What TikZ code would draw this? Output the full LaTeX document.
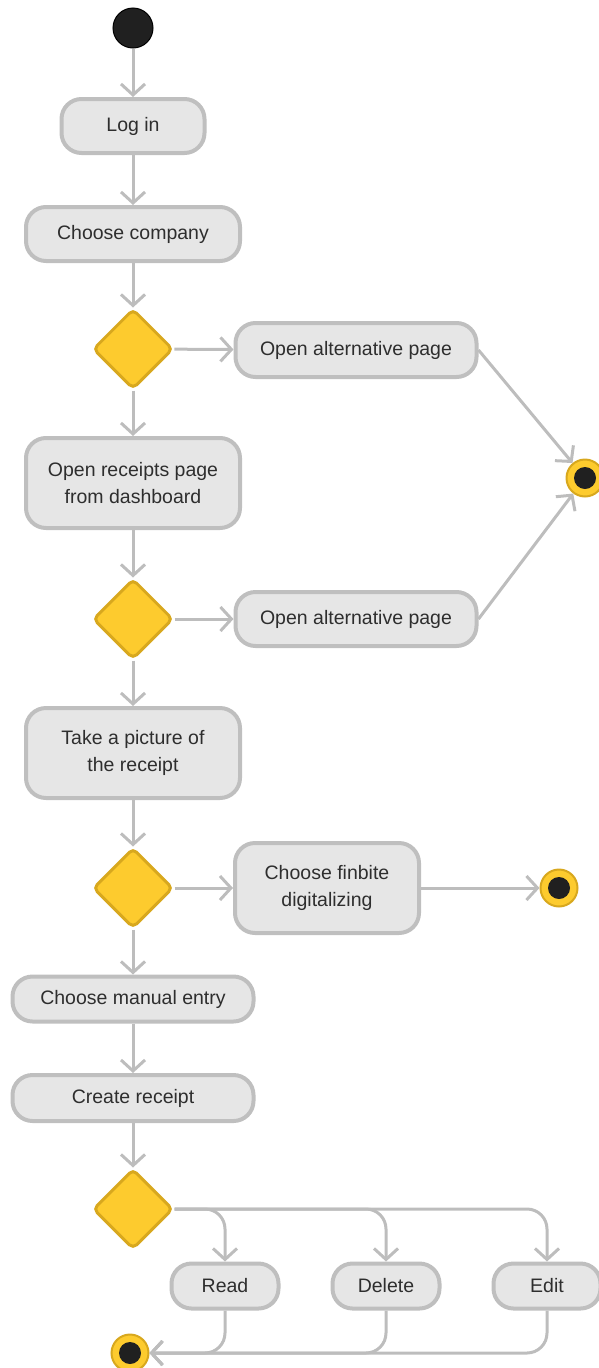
\documentclass[tikz,border=0pt]{standalone}
\usepackage{fontspec}
\setmainfont{Liberation Sans}
\usetikzlibrary{shapes.geometric,arrows.meta}
\definecolor{boxfill}{HTML}{E6E6E6}
\definecolor{boxline}{HTML}{BFBFBF}
\definecolor{wire}{HTML}{BDBDBD}
\definecolor{txt}{HTML}{2E2E2E}
\definecolor{gold}{HTML}{FDCB2E}
\definecolor{goldline}{HTML}{D8A81E}
\definecolor{dot}{HTML}{202020}
\begin{document}
\begin{tikzpicture}[x=1pt,y=-1pt,
  action/.style={draw=boxline,fill=boxfill,line width=4pt,rounded corners=20pt,
    text=txt,font=\fontsize{19.5}{27}\selectfont,align=center,inner sep=0pt},
  decision/.style={diamond,draw=goldline,fill=gold,line width=3pt,rounded corners=5pt,
    minimum width=80pt,minimum height=80pt,inner sep=0pt},
  initial/.style={circle,fill=dot,draw=black,line width=1pt,minimum size=40pt,inner sep=0pt},
  final/.style={circle,fill=gold,draw=goldline,line width=2pt,minimum size=37pt,inner sep=0pt,
    path picture={\fill[dot] (path picture bounding box.center) circle (11pt);}},
  flow/.style={draw=wire,line width=3pt,-{Straight Barb[length=11pt,width=24pt,line width=3pt]}},
  roundflow/.style={flow,rounded corners=20pt}]
\useasboundingbox (0,0) rectangle (598,1368);

% main column
\node[initial] (start) at (133,28) {};
\node[action,minimum width=143pt,minimum height=54pt] (login) at (133,126) {Log in};
\node[action,minimum width=214pt,minimum height=54pt] (company) at (133,234) {Choose company};
\node[decision] (d1) at (133,349) {};
\node[action,minimum width=241pt,minimum height=54pt] (alt1) at (356,350) {Open alternative page};
\node[action,minimum width=214pt,minimum height=90pt] (receipts) at (133,483) {Open receipts page\\from dashboard};
\node[decision] (d2) at (133,619) {};
\node[action,minimum width=241pt,minimum height=54pt] (alt2) at (356,619) {Open alternative page};
\node[action,minimum width=214pt,minimum height=90pt] (picture) at (133,753) {Take a picture of\\the receipt};
\node[decision] (d3) at (133,888) {};
\node[action,minimum width=184pt,minimum height=90pt] (finbite) at (327,888) {Choose finbite\\digitalizing};
\node[action,minimum width=241pt,minimum height=45pt] (manual) at (133,999) {Choose manual entry};
\node[action,minimum width=241pt,minimum height=46pt] (create) at (133,1098) {Create receipt};
\node[decision] (d4) at (133,1209) {};
\node[action,minimum width=107pt,minimum height=45pt] (read) at (225,1286) {Read};
\node[action,minimum width=107pt,minimum height=45pt] (delete) at (386,1286) {Delete};
\node[action,minimum width=107pt,minimum height=45pt] (edit) at (547,1286) {Edit};

% end points
\node[final] (endA) at (585,478) {};
\node[final] (endB) at (559,888) {};
\node[final] (endC) at (130,1353) {};

% connectors
\draw[flow] (start) -- (login);
\draw[flow] (login) -- (company);
\draw[flow] (company) -- (d1);
\draw[flow] (d1) -- (alt1);
\draw[flow] (d1) -- (receipts);
\draw[flow] (alt1.east) -- (endA);
\draw[flow] (receipts) -- (d2);
\draw[flow] (d2) -- (alt2);
\draw[flow] (alt2.east) -- (endA);
\draw[flow] (d2) -- (picture);
\draw[flow] (picture) -- (d3);
\draw[flow] (d3) -- (finbite);
\draw[flow] (finbite) -- (endB);
\draw[flow] (d3) -- (manual);
\draw[flow] (manual) -- (create);
\draw[flow] (create) -- (d4);
\draw[roundflow] (d4.east) -| (read.north);
\draw[roundflow] (d4.east) -| (delete.north);
\draw[roundflow] (d4.east) -| (edit.north);
\draw[roundflow] (read.south) |- (endC.east);
\draw[roundflow] (delete.south) |- (endC.east);
\draw[roundflow] (edit.south) |- (endC.east);
\end{tikzpicture}
\end{document}
